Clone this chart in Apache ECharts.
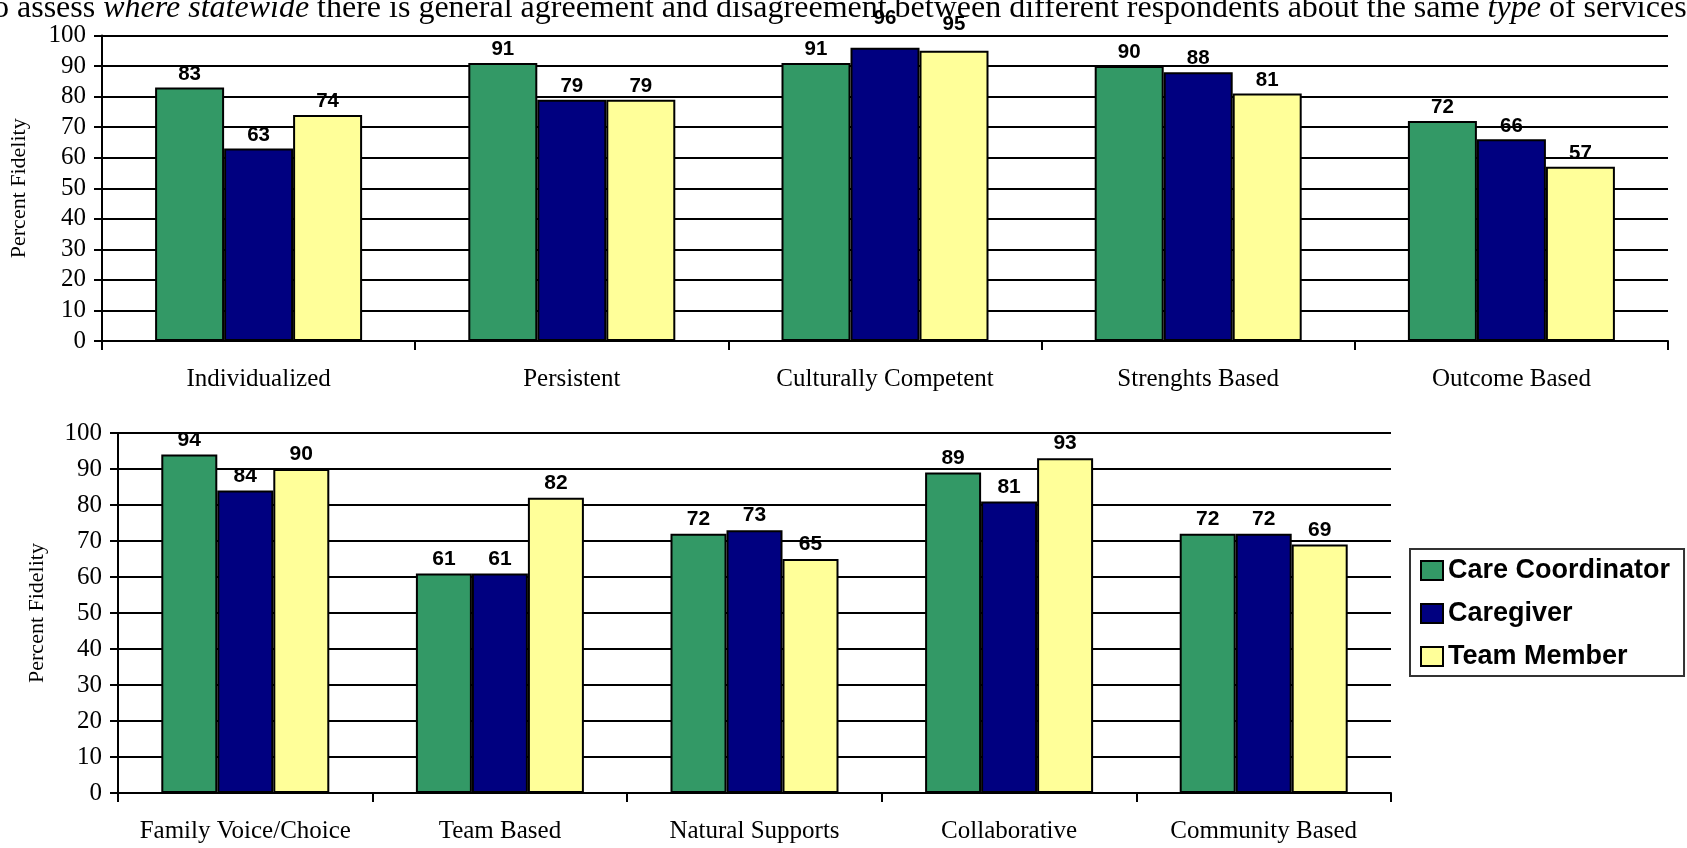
<!DOCTYPE html>
<html>
<head>
<meta charset="utf-8">
<script src="https://cdn.jsdelivr.net/npm/echarts@6/dist/echarts.min.js"></script>
<style>html,body{margin:0;padding:0;background:#fff;}#c{width:1687px;height:848px;}</style>
</head>
<body>
<div id="c"></div>
<script>
const topCategories = ['Individualized', 'Persistent', 'Culturally Competent', 'Strenghts Based', 'Outcome Based'];
const topCareCoordinator = [83, 91, 91, 90, 72];
const topCaregiver = [63, 79, 96, 88, 66];
const topTeamMember = [74, 79, 95, 81, 57];

const bottomCategories = ['Family Voice/Choice', 'Team Based', 'Natural Supports', 'Collaborative', 'Community Based'];
const bottomCareCoordinator = [94, 61, 72, 89, 72];
const bottomCaregiver = [84, 61, 73, 81, 72];
const bottomTeamMember = [90, 82, 65, 93, 69];

const seriesNames = ['Care Coordinator', 'Caregiver', 'Team Member'];
const seriesColors = ['#339966', '#000080', '#FFFF99'];
const yTicks = {min: 0, max: 100, interval: 10};
const yAxisName = 'Percent Fidelity';

const serif = "'Times New Roman', 'Liberation Serif', serif";
const sans = "Arial, 'Liberation Sans', sans-serif";

// labels that were moved up by hand in the original (series index, category index) -> extra lift in px
const labelLift = {'1-2': 16, '2-2': 13};

const chart = echarts.init(document.getElementById('c'));

function yAxis(gridIndex, nameGap) {
  return {
    type: 'value', gridIndex, min: yTicks.min, max: yTicks.max, interval: yTicks.interval,
    name: yAxisName, nameLocation: 'middle', nameGap,
    nameTextStyle: {fontFamily: serif, fontSize: 22, color: '#000'},
    axisLine: {show: true, lineStyle: {color: '#000', width: 2}},
    axisTick: {show: true, length: 8, lineStyle: {color: '#000', width: 2}},
    axisLabel: {fontFamily: serif, fontSize: 25, color: '#000', margin: 16},
    splitLine: {show: true, lineStyle: {color: '#000', width: 2}}
  };
}
function xAxis(gridIndex, data) {
  return {
    type: 'category', gridIndex, data,
    axisLine: {show: true, lineStyle: {color: '#000', width: 2}},
    axisTick: {show: true, interval: 0, length: 9, alignWithLabel: false, lineStyle: {color: '#000', width: 2}},
    axisLabel: {fontFamily: serif, fontSize: 25, color: '#000', margin: 26, interval: 0}
  };
}
function bars(idx, grid, values, barWidth, fontSize, dist) {
  const data = values.map((v, i) => {
    const lift = grid === 0 ? labelLift[idx + '-' + i] : undefined;
    return lift ? {value: v, label: {offset: [0, -lift]}} : v;
  });
  return {
    type: 'bar', name: seriesNames[idx], xAxisIndex: grid, yAxisIndex: grid,
    data, barWidth, barGap: '0%',
    itemStyle: {color: seriesColors[idx], borderColor: '#000', borderWidth: 2},
    label: {show: true, position: 'top', distance: dist, fontFamily: sans, fontWeight: 'bold', fontSize, color: '#000'},
    emphasis: {disabled: true}
  };
}

const option = {
  animation: false,
  backgroundColor: '#fff',
  graphic: [{
    type: 'text', left: -7, top: -7, silent: true,
    style: {
      text: '{n|o assess }{i|where statewide}{n| there is general agreement and disagreement between different respondents about the same }{i|type}{n| of services.}',
      rich: {
        n: {fontFamily: serif, fontSize: 32, fill: '#000'},
        i: {fontFamily: serif, fontSize: 32, fontStyle: 'italic', fill: '#000'}
      }
    }
  }],
  legend: {
    orient: 'vertical', left: 1410, top: 549,
    data: seriesNames,
    icon: 'rect',
    itemWidth: 22, itemHeight: 19, itemGap: 16,
    padding: [8, 14, 6, 10],
    borderColor: '#333', borderWidth: 2,
    textStyle: {fontFamily: sans, fontWeight: 'bold', fontSize: 27, color: '#000'},
    selectedMode: false
  },
  grid: [
    {left: 102, top: 35.5, width: 1566, height: 305.5},
    {left: 118, top: 433, width: 1273, height: 360}
  ],
  xAxis: [xAxis(0, topCategories), xAxis(1, bottomCategories)],
  yAxis: [yAxis(0, 72), yAxis(1, 70)],
  series: [
    bars(0, 0, topCareCoordinator, 69, 20.5, 3),
    bars(1, 0, topCaregiver, 69, 20.5, 3),
    bars(2, 0, topTeamMember, 69, 20.5, 3),
    bars(0, 1, bottomCareCoordinator, 56, 21, 4),
    bars(1, 1, bottomCaregiver, 56, 21, 4),
    bars(2, 1, bottomTeamMember, 56, 21, 4)
  ]
};
chart.setOption(option);
</script>
</body>
</html>
